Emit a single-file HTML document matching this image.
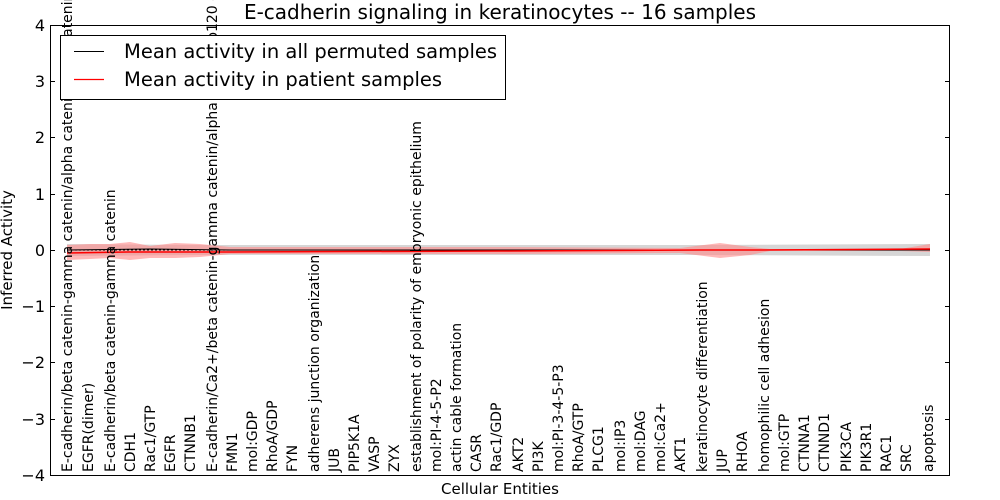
<!DOCTYPE html>
<html><head><style>body{margin:0;background:#fff}svg{display:block}text{font-family:"DejaVu Sans","Liberation Sans",sans-serif}</style></head>
<body>
<svg width="1000" height="500" xmlns="http://www.w3.org/2000/svg">
<rect width="1000" height="500" fill="#fff"/>
<path d="M67,244 L200,245 L700,245 L930,244 L930,256 L700,255 L200,255 L67,256 Z" fill="#bbb" opacity="0.6"/>
<path d="M67,245 L90,244 L110,244 L130,242 L150,246 L175,243 L200,244 L230,247 L300,247 L500,247 L680,248 L720,243 L750,247 L770,249 L900,249 L930,244 L930,252 L900,251 L770,251 L750,255 L720,258 L680,253 L500,254 L300,254 L230,254 L200,257 L175,258 L150,258 L130,260 L110,258 L90,259 L67,260 Z" fill="#f88" opacity="0.6"/>
<line x1="67" y1="250" x2="930" y2="250" stroke="#000" stroke-width="1" stroke-dasharray="2,2"/>
<path d="M67,250 L150,249 L230,250 L930,250" fill="none" stroke="#000" stroke-width="1"/>
<path d="M67,253 L130,252 L230,252 L500,251 L700,250 L760,250 L930,249" fill="none" stroke="#f00" stroke-width="1.5"/>
<g font-size="14">
<text transform="translate(72,472) rotate(-90)">E-cadherin/beta catenin-gamma catenin/alpha catenin/p120 catenin</text>
<text transform="translate(93,472) rotate(-90)">EGFR(dimer)</text>
<text transform="translate(115,472) rotate(-90)">E-cadherin/beta catenin-gamma catenin</text>
<text transform="translate(135,472) rotate(-90)">CDH1</text>
<text transform="translate(155,472) rotate(-90)">Rac1/GTP</text>
<text transform="translate(175,472) rotate(-90)">EGFR</text>
<text transform="translate(195,472) rotate(-90)">CTNNB1</text>
<text transform="translate(217,472) rotate(-90)">E-cadherin/Ca2+/beta catenin-gamma catenin/alpha catenin/p120 catenin</text>
<text transform="translate(237,472) rotate(-90)">FMN1</text>
<text transform="translate(257,472) rotate(-90)">mol:GDP</text>
<text transform="translate(277,472) rotate(-90)">RhoA/GDP</text>
<text transform="translate(297,472) rotate(-90)">FYN</text>
<text transform="translate(319,472) rotate(-90)">adherens junction organization</text>
<text transform="translate(339,472) rotate(-90)">JUB</text>
<text transform="translate(359,472) rotate(-90)">PIP5K1A</text>
<text transform="translate(379,472) rotate(-90)">VASP</text>
<text transform="translate(399,472) rotate(-90)">ZYX</text>
<text transform="translate(421,472) rotate(-90)">establishment of polarity of embryonic epithelium</text>
<text transform="translate(441,472) rotate(-90)">mol:PI-4-5-P2</text>
<text transform="translate(461,472) rotate(-90)">actin cable formation</text>
<text transform="translate(481,472) rotate(-90)">CASR</text>
<text transform="translate(501,472) rotate(-90)">Rac1/GDP</text>
<text transform="translate(523,472) rotate(-90)">AKT2</text>
<text transform="translate(543,472) rotate(-90)">PI3K</text>
<text transform="translate(563,472) rotate(-90)">mol:PI-3-4-5-P3</text>
<text transform="translate(583,472) rotate(-90)">RhoA/GTP</text>
<text transform="translate(603,472) rotate(-90)">PLCG1</text>
<text transform="translate(625,472) rotate(-90)">mol:IP3</text>
<text transform="translate(645,472) rotate(-90)">mol:DAG</text>
<text transform="translate(665,472) rotate(-90)">mol:Ca2+</text>
<text transform="translate(685,472) rotate(-90)">AKT1</text>
<text transform="translate(707,472) rotate(-90)">keratinocyte differentiation</text>
<text transform="translate(727,472) rotate(-90)">JUP</text>
<text transform="translate(747,472) rotate(-90)">RHOA</text>
<text transform="translate(769,472) rotate(-90)">homophilic cell adhesion</text>
<text transform="translate(789,472) rotate(-90)">mol:GTP</text>
<text transform="translate(809,472) rotate(-90)">CTNNA1</text>
<text transform="translate(829,472) rotate(-90)">CTNND1</text>
<text transform="translate(851,472) rotate(-90)">PIK3CA</text>
<text transform="translate(871,472) rotate(-90)">PIK3R1</text>
<text transform="translate(891,472) rotate(-90)">RAC1</text>
<text transform="translate(911,472) rotate(-90)">SRC</text>
<text transform="translate(933,472) rotate(-90)">apoptosis</text>
</g>
<rect x="50.5" y="25.5" width="899" height="450" fill="none" stroke="#000"/>
<g stroke="#000">
<line x1="50" y1="81.5" x2="55" y2="81.5"/><line x1="50" y1="137.5" x2="55" y2="137.5"/><line x1="50" y1="194.5" x2="55" y2="194.5"/><line x1="50" y1="250.5" x2="55" y2="250.5"/><line x1="50" y1="306.5" x2="55" y2="306.5"/><line x1="50" y1="362.5" x2="55" y2="362.5"/><line x1="50" y1="419.5" x2="55" y2="419.5"/>
<line x1="945" y1="81.5" x2="950" y2="81.5"/><line x1="945" y1="137.5" x2="950" y2="137.5"/><line x1="945" y1="194.5" x2="950" y2="194.5"/><line x1="945" y1="250.5" x2="950" y2="250.5"/><line x1="945" y1="306.5" x2="950" y2="306.5"/><line x1="945" y1="362.5" x2="950" y2="362.5"/><line x1="945" y1="419.5" x2="950" y2="419.5"/>
</g>
<g font-size="16" text-anchor="end">
<text x="45" y="31">4</text><text x="45" y="87">3</text><text x="45" y="143">2</text><text x="45" y="200">1</text><text x="45" y="256">0</text><text x="45" y="312">−1</text><text x="45" y="368">−2</text><text x="45" y="425">−3</text><text x="45" y="481">−4</text>
</g>
<text x="500" y="494" font-size="15" text-anchor="middle">Cellular Entities</text>
<text transform="translate(12,250) rotate(-90)" font-size="15" text-anchor="middle">Inferred Activity</text>
<text x="500" y="19" font-size="20" text-anchor="middle">E-cadherin signaling in keratinocytes -- 16 samples</text>
<rect x="60.5" y="35.5" width="445" height="64" fill="#fff" stroke="#000"/>
<line x1="74" y1="51.5" x2="104" y2="51.5" stroke="#000"/>
<line x1="74" y1="79.5" x2="104" y2="79.5" stroke="#f00" stroke-width="1.2"/>
<text x="124" y="58" font-size="19.5">Mean activity in all permuted samples</text>
<text x="124" y="86" font-size="19.5">Mean activity in patient samples</text>
</svg>
</body></html>
